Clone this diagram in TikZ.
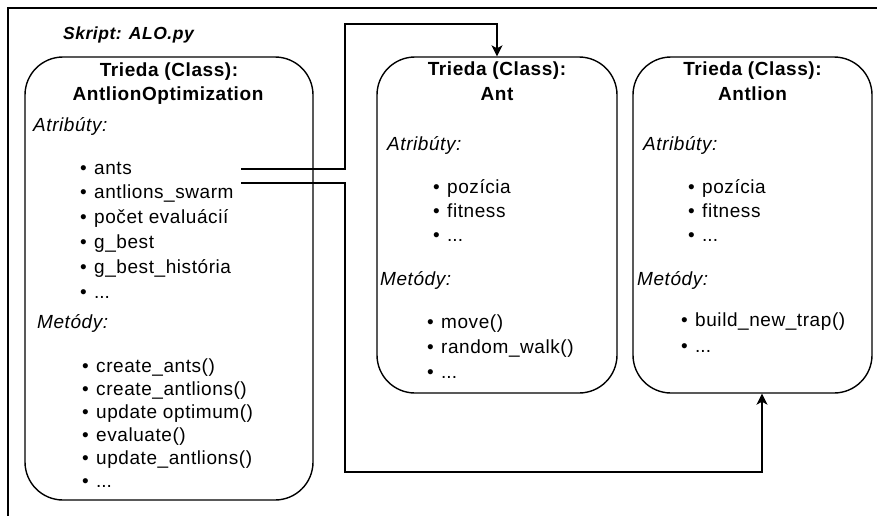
\documentclass[tikz,border=0pt]{standalone}
\usepackage{fontspec}
\setmainfont{Liberation Sans}[LetterSpace=3]
\usetikzlibrary{arrows.meta,calc}
% three dots as an item, kept out of \foreach's range syntax
\newcommand{\etcdots}{.\kern0pt.\kern0pt.}

\begin{document}
\begin{tikzpicture}[x=1pt,y=-1pt,
  classbox/.style={draw, line width=1.4pt, rounded corners=38pt, inner sep=0pt},
  title/.style={anchor=base, inner sep=0pt, font=\fontsize{19}{23}\selectfont\bfseries},
  section/.style={anchor=base west, inner sep=0pt, font=\fontsize{19}{23}\selectfont\itshape},
  entry/.style={anchor=base west, inner sep=0pt, font=\fontsize{19}{23}\selectfont},
  conn/.style={line width=1.2pt},
  arrowconn/.style={conn, -{Stealth[length=11pt,width=11pt,inset=3pt]}},
  frame/.style={line width=1.6pt}]
\useasboundingbox (0,0) rectangle (877,515);

% outer frame (only its top and left sides are visible)
\draw[frame] (8,530) |- (890,8);

\node[anchor=base west, inner sep=0pt,
      font=\fontsize{17.5}{21}\selectfont\bfseries\itshape] (script) at (63,39) {Skript: ALO.py};

% class boxes
\node[classbox, minimum width=288pt, minimum height=443pt] (opt) at (169,278.5) {};
\node[classbox, minimum width=240pt, minimum height=336pt] (ant) at (497,225) {};
\node[classbox, minimum width=239pt, minimum height=336pt] (antlion) at (752.5,225) {};

% AntlionOptimization
\node[title] (optclass) at (169,76) {Trieda (Class):};
\node[title] (optname) at (168,100) {AntlionOptimization};
\node[section] (optattr) at (33,131) {Atribúty:};
\foreach \t [count=\i] in {ants, antlions\_swarm, počet evaluácií, g\_best, g\_best\_história, \etcdots}
  \node[entry] (optattr\i) at (80,{174+24.8*(\i-1)}) {\makebox[14pt][l]{•}\t};
\node[section] (optmeth) at (37,328) {Metódy:};
\foreach \t [count=\i] in {create\_ants(), create\_antlions(), update optimum(), evaluate(), update\_antlions(), \etcdots}
  \node[entry] (optmeth\i) at (82,{372+23*(\i-1)}) {\makebox[14pt][l]{•}\t};

% Ant
\node[title] (antclass) at (497,75) {Trieda (Class):};
\node[title] (antname) at (497,100) {Ant};
\node[section] (antattr) at (387,150) {Atribúty:};
\foreach \t [count=\i] in {pozícia, fitness, \etcdots}
  \node[entry] (antattr\i) at (433,{193+24*(\i-1)}) {\makebox[14pt][l]{•}\t};
\node[section] (antmeth) at (380,285) {Metódy:};
\foreach \t [count=\i] in {move(), random\_walk(), \etcdots}
  \node[entry] (antmeth\i) at (427,{328+25*(\i-1)}) {\makebox[14pt][l]{•}\t};

% Antlion
\node[title] (antlionclass) at (752.5,75) {Trieda (Class):};
\node[title] (antlionname) at (752.5,100) {Antlion};
\node[section] (antlionattr) at (643,150) {Atribúty:};
\foreach \t [count=\i] in {pozícia, fitness, \etcdots}
  \node[entry] (antlionattr\i) at (688,{193+24*(\i-1)}) {\makebox[14pt][l]{•}\t};
\node[section] (antlionmeth) at (637,285) {Metódy:};
\foreach \t [count=\i] in {build\_new\_trap(), \etcdots}
  \node[entry] (antlionmeth\i) at (681,{326+26*(\i-1)}) {\makebox[14pt][l]{•}\t};

% connectors from the attribute list to the referenced classes
\coordinate (antsref) at (241,169);
\coordinate (swarmref) at (241,183);
\coordinate (upbend) at (345,24);
\coordinate (downbend) at (345,472);
\draw[arrowconn] (antsref) -| (upbend) -| (ant.north);
\draw[arrowconn] (swarmref) -| (downbend) -| ($(antlion.south)+(9.5,0)$);
\end{tikzpicture}
\end{document}
